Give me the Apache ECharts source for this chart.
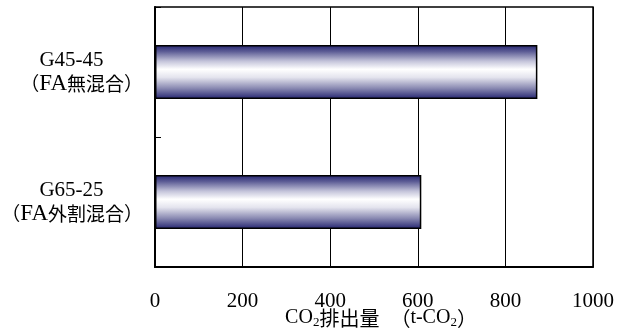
<!DOCTYPE html>
<html>
<head>
<meta charset="utf-8">
<script src="https://cdn.jsdelivr.net/npm/echarts@6/dist/echarts.min.js"></script>
<style>
  html, body { margin: 0; padding: 0; background: #fff; }
  #chart { width: 617px; height: 331px; }
</style>
</head>
<body>
<div id="chart"></div>
<script>
// Mix designs (top to bottom) and their CO2 emissions in t-CO2
const mixNames = ['G45-45', 'G65-25'];
const mixNotes = ['（FA無混合）', '（FA外割混合）'];
const emissions = [873, 608];
const xTicks = [0, 200, 400, 600, 800, 1000];

const SERIF = "'Liberation Serif', 'Times New Roman', serif";
const GOTHIC = "'Noto Sans CJK JP', sans-serif";
const NAVY = '#23236f';

// Split a string into runs of Latin text and CJK text, tagged with rich style keys
function richRuns(str, latinKey, cjkKey) {
  const out = [];
  let cur = '', curKey = null;
  for (const ch of str) {
    const key = /[\u3000-\u9fff\uff00-\uffef]/.test(ch) ? cjkKey : latinKey;
    if (key !== curKey && cur) { out.push('{' + curKey + '|' + cur + '}'); cur = ''; }
    curKey = key;
    cur += ch;
  }
  if (cur) out.push('{' + curKey + '|' + cur + '}');
  return out.join('');
}

const chart = echarts.init(document.getElementById('chart'));

chart.setOption({
  animation: false,
  backgroundColor: '#ffffff',
  grid: {
    left: 155, right: 24, top: 7, bottom: 64,
    containLabel: false,
    outerBoundsMode: 'none',
    show: true, borderColor: '#000', borderWidth: 1.5
  },
  xAxis: {
    type: 'value',
    min: xTicks[0],
    max: xTicks[xTicks.length - 1],
    interval: xTicks[1] - xTicks[0],
    axisLine: { show: true, lineStyle: { color: '#000', width: 2 } },
    axisTick: { show: false },
    splitLine: { show: true, lineStyle: { color: '#000', width: 1 } },
    axisLabel: {
      color: '#000', fontFamily: SERIF, fontSize: 21, margin: 24,
      formatter: v => String(v)
    },
    name: '{l|CO}{s|2}{j|排出量}{g| }{j|（}{l|t-CO}{s|2}{j|）}',
    nameLocation: 'middle',
    nameGap: 40,
    nameMoveOverlap: false,
    nameTextStyle: {
      color: '#000',
      padding: [0, 0, 0, 14],
      rich: {
        l: { fontFamily: SERIF, fontSize: 20, color: '#000', lineHeight: 22 },
        j: { fontFamily: GOTHIC, fontSize: 20, color: '#000', lineHeight: 22 },
        g: { fontFamily: SERIF, fontSize: 20, color: '#000', lineHeight: 22, width: 11 },
        s: { fontFamily: SERIF, fontSize: 13, color: '#000', lineHeight: 22, padding: [9, 0, 0, 0] }
      }
    }
  },
  yAxis: {
    type: 'category',
    inverse: true,
    data: mixNames.map((n, i) => n + '\n' + mixNotes[i]),
    axisLine: { show: true, lineStyle: { color: '#000', width: 2 } },
    axisTick: { show: true, inside: true, length: 6, lineStyle: { color: '#000', width: 1 } },
    splitLine: { show: false },
    axisLabel: {
      color: '#000',
      align: 'right',
      margin: 12,
      formatter: function (v) {
        const parts = v.split('\n');
        const head = parts[1].length > 6 ? 'hw' : 'hn';
        return '{' + head + '|' + parts[0] + '}\n' + richRuns(parts[1], 'l', 'j');
      },
      rich: {
        hn: { fontFamily: SERIF, fontSize: 21, lineHeight: 24, color: '#000', width: 124, align: 'center' },
        hw: { fontFamily: SERIF, fontSize: 21, lineHeight: 24, color: '#000', width: 143, align: 'center' },
        l: { fontFamily: SERIF, fontSize: 23, lineHeight: 24, color: '#000' },
        j: { fontFamily: GOTHIC, fontSize: 19, lineHeight: 24, color: '#000' }
      }
    }
  },
  series: [{
    type: 'bar',
    data: emissions,
    barWidth: 54,
    itemStyle: {
      borderColor: '#000',
      borderWidth: 1.5,
      color: new echarts.graphic.LinearGradient(0, 0, 0, 1, [
        { offset: 0, color: NAVY },
        { offset: 0.12, color: '#5c5c95' },
        { offset: 0.3, color: '#c4c4da' },
        { offset: 0.45, color: '#ffffff' },
        { offset: 0.6, color: '#e4e4ee' },
        { offset: 0.8, color: '#8a8ab2' },
        { offset: 1, color: NAVY }
      ])
    }
  }]
});
</script>
</body>
</html>
